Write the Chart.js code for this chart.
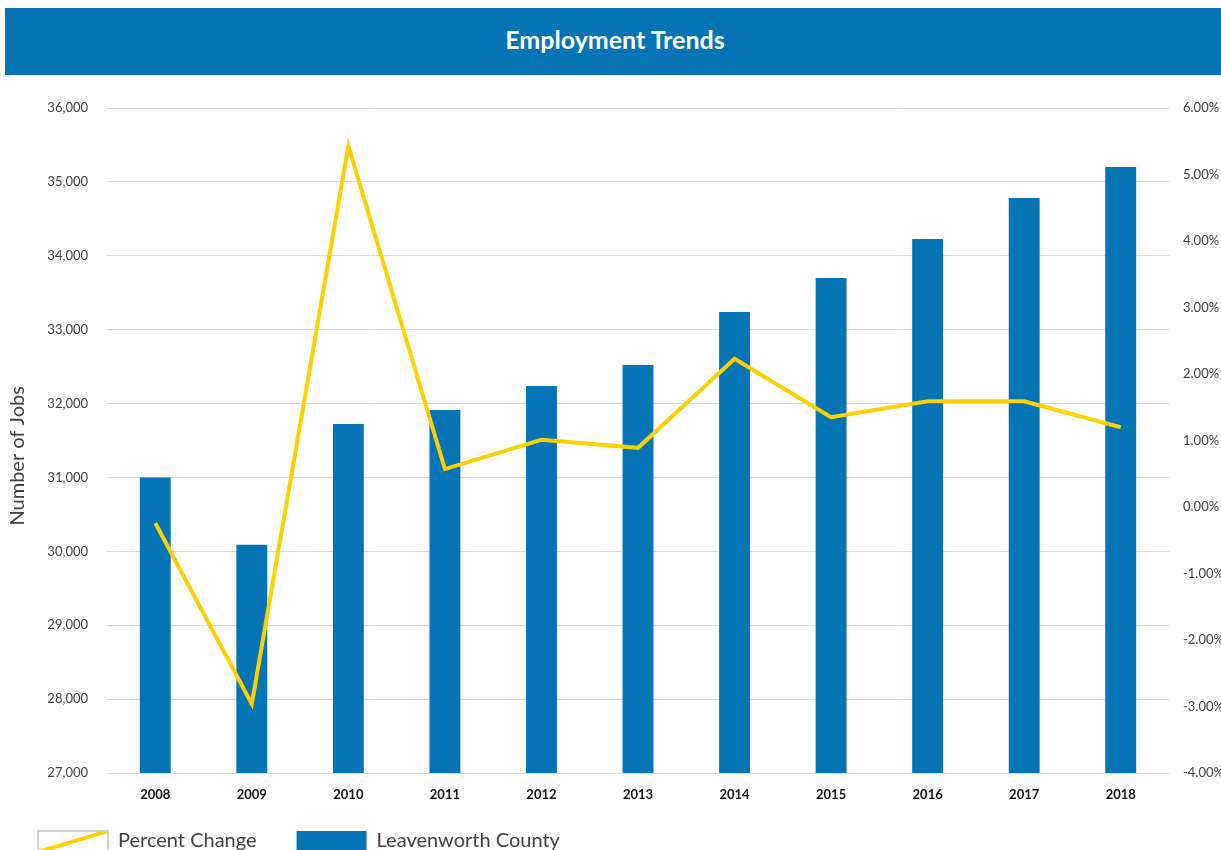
<!DOCTYPE html>
<html>
<head>
<meta charset="utf-8">
<script src="https://cdn.jsdelivr.net/npm/chart.js@4.4.1/dist/chart.umd.min.js"></script>
<style>
  html, body { margin: 0; padding: 0; background: #fff; overflow: hidden; width: 1221px; height: 850px; }
  #header { position: absolute; left: 5px; top: 8px; width: 1216px; height: 67px; background: #0474B4;
    color: #fff; font-family: Lato, "Open Sans", sans-serif; font-weight: bold; font-size: 25px;
    display: flex; align-items: center; justify-content: center; box-sizing: border-box; padding-bottom: 6px; padding-left: 4px; }
  #wrap { position: absolute; left: 0; top: 0; width: 1221px; height: 883px; }
</style>
</head>
<body>
<div id="wrap"><canvas id="c" width="1221" height="883"></canvas></div>
<div id="header">Employment Trends</div>
<script>
const categories = ["2008","2009","2010","2011","2012","2013","2014","2015","2016","2017","2018"];
const jobs = [31000, 30090, 31724, 31913, 32238, 32522, 33240, 33700, 34227, 34782, 35202];
const percentChange = [-0.24, -2.96, 5.43, 0.57, 1.01, 0.89, 2.23, 1.35, 1.59, 1.59, 1.20];
const jobTicks = { min: 27000, max: 36000, step: 1000 };
const pctTicks = { min: -4, max: 6, step: 1 };
const barColor = "#0474B4";
const lineColor = "#FFD000";
const textColor = "#404040";
const LEGEND_PAD = 40;

const legendPlace = {
  id: 'legendPlace',
  afterLayout(chart) {
    const lg = chart.legend;
    if (!lg) return;
    const targetTop = 831 - LEGEND_PAD;
    const dy = targetTop - lg.top;
    lg.top += dy;
    lg.bottom = chart.height;
    lg.height = lg.bottom - lg.top;
    lg.left = -2;
  },
  afterDraw(chart) {
    const lg = chart.legend;
    if (!lg || !lg.legendHitBoxes || !lg.legendHitBoxes.length) return;
    const idx = lg.legendItems.findIndex(i => i.datasetIndex === 0);
    if (idx < 0) return;
    const hb = lg.legendHitBoxes[idx];
    const bw = lg.options.labels.boxWidth, bh = lg.options.labels.boxHeight;
    const x = hb.left, y = hb.top;
    const ctx = chart.ctx;
    ctx.save();
    ctx.beginPath();
    ctx.rect(x, y, bw, bh + 20);
    ctx.clip();
    ctx.strokeStyle = lineColor;
    ctx.lineWidth = 4;
    ctx.beginPath();
    ctx.moveTo(x + bw, y);
    ctx.lineTo(x, y + bw * 0.3);
    ctx.stroke();
    ctx.restore();
  }
};

new Chart(document.getElementById('c'), {
  data: {
    labels: categories,
    datasets: [
      {
        type: 'line',
        label: 'Percent Change',
        data: percentChange,
        yAxisID: 'y1',
        borderColor: lineColor,
        backgroundColor: '#ffffff',
        borderWidth: 4,
        pointRadius: 0,
        tension: 0,
        order: 0
      },
      {
        type: 'bar',
        label: 'Leavenworth County',
        data: jobs,
        yAxisID: 'y',
        backgroundColor: barColor,
        borderWidth: 0,
        barPercentage: 0.32,
        categoryPercentage: 1.0,
        order: 1
      }
    ]
  },
  options: {
    responsive: false,
    animation: false,
    layout: { padding: { top: 108, left: 0, right: 0, bottom: 0 } },
    plugins: {
      tooltip: { enabled: false },
      title: { display: false },
      legend: {
        position: 'bottom',
        align: 'start',
        labels: {
          boxWidth: 70,
          boxHeight: 20,
          padding: LEGEND_PAD,
          color: textColor,
          font: { family: 'Lato', size: 20 },
          generateLabels(chart) {
            return chart.data.datasets.map((ds, i) => ({
              text: ds.label,
              datasetIndex: i,
              fillStyle: i === 0 ? '#ffffff' : barColor,
              strokeStyle: i === 0 ? '#BFBFBF' : barColor,
              lineWidth: i === 0 ? 1.5 : 0,
              fontColor: textColor,
              hidden: false
            }));
          }
        }
      }
    },
    scales: {
      x: {
        grid: { display: false },
        border: { display: false },
        ticks: { color: '#111', font: { family: 'Lato', size: 13, weight: 'bold' }, padding: 6 },
        afterFit(s) { s.height = 40; }
      },
      y: {
        position: 'left',
        min: jobTicks.min, max: jobTicks.max,
        border: { display: false },
        grid: { color: '#D9D9D9', lineWidth: 1, drawTicks: false },
        ticks: {
          stepSize: jobTicks.step, padding: 19, color: textColor,
          font: { family: 'Lato', size: 13 },
          callback: v => v.toLocaleString('en-US')
        },
        title: { display: true, text: 'Number of Jobs' + '\u00a0'.repeat(6), color: textColor, font: { family: 'Lato', size: 20 }, padding: { top: 6, bottom: 0 } },
        afterFit(s) { s.width = 107; }
      },
      y1: {
        position: 'right',
        min: pctTicks.min, max: pctTicks.max,
        border: { display: false },
        grid: { display: false, drawTicks: false },
        ticks: {
          stepSize: pctTicks.step, padding: 14, color: textColor,
          font: { family: 'Lato', size: 13 },
          callback: v => v.toFixed(2) + '%'
        },
        afterFit(s) { s.width = 52; }
      }
    }
  },
  plugins: [legendPlace]
});
</script>
</body>
</html>
